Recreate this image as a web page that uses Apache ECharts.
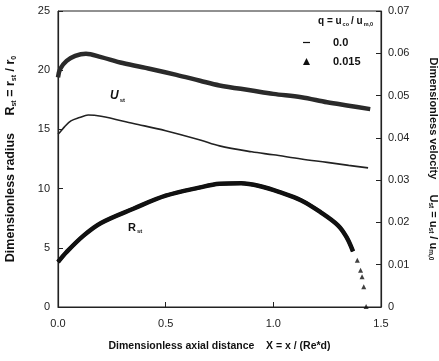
<!DOCTYPE html>
<html>
<head>
<meta charset="utf-8">
<script src="https://cdn.jsdelivr.net/npm/echarts@6/dist/echarts.min.js"></script>
<style>
  html, body { margin: 0; padding: 0; background: #fff; }
  #chart { width: 439px; height: 361px; }
</style>
</head>
<body>
<div id="chart"></div>
<script>
var FONT = '"Liberation Sans", Arial, sans-serif';

// velocity U_st (right axis), q = 0.015 : upper curve
var xVelHigh = [0, 0.01, 0.04, 0.08, 0.13, 0.2, 0.3, 0.43, 0.55, 0.66, 0.75, 0.9, 1.0, 1.13, 1.25, 1.35, 1.45];
var velHigh  = [0.0543, 0.0563, 0.0582, 0.0594, 0.0599, 0.0591, 0.0577, 0.0563, 0.0549, 0.0535, 0.0524, 0.0512, 0.0504, 0.0496, 0.0484, 0.0476, 0.0468];

// velocity U_st (right axis), q = 0.0 : lower curve
var xVelLow = [0, 0.01, 0.03, 0.06, 0.1, 0.14, 0.2, 0.35, 0.5, 0.66, 0.75, 0.9, 1.0, 1.13, 1.25, 1.35, 1.44];
var velLow  = [0.0409, 0.0414, 0.0426, 0.044, 0.0448, 0.0454, 0.0451, 0.0434, 0.0417, 0.0395, 0.0381, 0.0367, 0.036, 0.035, 0.0342, 0.0335, 0.0329];

// radius R_st (left axis)
var xRad = [0, 0.04, 0.12, 0.2, 0.35, 0.5, 0.66, 0.75, 0.85, 0.94, 1.03, 1.13, 1.22, 1.3, 1.34, 1.37];
var rad  = [3.8, 4.65, 6.05, 7.1, 8.3, 9.4, 10.1, 10.4, 10.45, 10.2, 9.7, 9.0, 8.0, 6.9, 5.9, 4.7];
// q = 0.015 radius tail (separate triangles)
var xRadTail = [1.39, 1.405, 1.412, 1.42, 1.431];
var radTail  = [3.95, 3.1, 2.55, 1.7, 0.05];

function pairs(xs, ys) {
  var out = [];
  for (var i = 0; i < xs.length; i++) out.push([xs[i], ys[i]]);
  return out;
}

var dashIcon = 'path://M0,0M8,8M0,3.3L8,3.3L8,4.7L0,4.7Z';

var chart = echarts.init(document.getElementById('chart'));
chart.setOption({
  animation: false,
  textStyle: { fontFamily: FONT },
  grid: {
    left: 58, right: 58, top: 11, bottom: 54,
    outerBoundsMode: 'none', containLabel: false,
    show: true, borderColor: '#222', borderWidth: 1
  },
  legend: {
    orient: 'vertical',
    left: 298, top: 32,
    itemWidth: 7, itemHeight: 7, itemGap: 8,
    textStyle: { fontFamily: FONT, fontSize: 11, fontWeight: 'bold', color: '#111', padding: [0, 0, 0, 18] },
    data: [
      { name: '0.0', icon: dashIcon },
      { name: '0.015', icon: 'triangle' }
    ]
  },
  xAxis: {
    type: 'value', min: 0, max: 1.5, interval: 0.5,
    name: 'Dimensionless axial distance    X = x / (Re*d)',
    nameLocation: 'middle', nameGap: 34,
    nameTextStyle: { fontFamily: FONT, fontSize: 10.5, fontWeight: 'bold', color: '#111' },
    axisLine: { lineStyle: { color: '#222', width: 1.2 } },
    axisTick: { inside: true, length: 5, lineStyle: { color: '#222' } },
    axisLabel: { color: '#222', fontSize: 11, margin: 11, formatter: function (v) { return v.toFixed(1); } },
    splitLine: { show: false }
  },
  yAxis: [
    {
      type: 'value', min: 0, max: 25, interval: 5, position: 'left',
      name: '{t|Dimensionless radius     R}{s|st}{t| = r}{s|st}{t| / r}{s|0}',
      nameLocation: 'middle', nameGap: 40,
      nameTextStyle: {
        rich: {
          t: { fontFamily: FONT, fontSize: 12.5, fontWeight: 'bold', color: '#111' },
          s: { fontFamily: FONT, fontSize: 7, fontWeight: 'bold', color: '#111', padding: [7, 0, 0, 0] }
        }
      },
      axisLine: { show: true, lineStyle: { color: '#222', width: 1.2 } },
      axisTick: { inside: true, length: 5, lineStyle: { color: '#222' } },
      axisLabel: { color: '#222', fontSize: 11, margin: 8 },
      splitLine: { show: false }
    },
    {
      type: 'value', min: 0, max: 0.07, interval: 0.01, position: 'right',
      name: '{t|Dimensionless velocity     U}{s|st}{t| = u}{s|st}{t| / u}{s|m,0}',
      nameLocation: 'middle', nameGap: 46, nameRotate: -90,
      nameTextStyle: {
        rich: {
          t: { fontFamily: FONT, fontSize: 11, fontWeight: 'bold', color: '#111' },
          s: { fontFamily: FONT, fontSize: 6.5, fontWeight: 'bold', color: '#111', padding: [6, 0, 0, 0] }
        }
      },
      axisLine: { show: true, lineStyle: { color: '#222', width: 1.2 } },
      axisTick: { inside: true, length: 5, lineStyle: { color: '#222' } },
      axisLabel: {
        color: '#222', fontSize: 11, margin: 7,
        formatter: function (v) { return v === 0 ? '0' : v.toFixed(2); }
      },
      splitLine: { show: false }
    }
  ],
  graphic: [
    {
      type: 'text', left: 318, top: 16,
      style: {
        text: '{t|q = u}{s|co}{t|/ u}{s|m,0}',
        rich: {
          t: { fontFamily: FONT, fontSize: 10, fontWeight: 'bold', fill: '#111' },
          s: { fontFamily: FONT, fontSize: 5.5, fontWeight: 'bold', fill: '#111', padding: [7, 2, 0, 1] }
        }
      }
    },
    {
      type: 'text', left: 110, top: 90,
      style: {
        text: '{t|U}{s|st}',
        rich: {
          t: { fontFamily: FONT, fontSize: 12, fontWeight: 'bold', fontStyle: 'italic', fill: '#111' },
          s: { fontFamily: FONT, fontSize: 6, fontWeight: 'bold', fill: '#111', padding: [8, 0, 0, 1] }
        }
      }
    },
    {
      type: 'text', left: 128, top: 222,
      style: {
        text: '{t|R}{s|st}',
        rich: {
          t: { fontFamily: FONT, fontSize: 11, fontWeight: 'bold', fill: '#111' },
          s: { fontFamily: FONT, fontSize: 6, fontWeight: 'bold', fill: '#111', padding: [7, 0, 0, 1] }
        }
      }
    }
  ],
  series: [
    {
      name: '0.015', type: 'line', yAxisIndex: 1, smooth: 0.35,
      data: pairs(xVelHigh, velHigh),
      symbol: 'triangle', symbolSize: 3, showSymbol: false,
      lineStyle: { color: '#2a2a2a', width: 4.5 },
      itemStyle: { color: '#111' }
    },
    {
      name: '0.0', type: 'line', yAxisIndex: 1, smooth: 0.35,
      data: pairs(xVelLow, velLow),
      symbol: 'rect', symbolSize: [4, 1.5], showSymbol: false,
      lineStyle: { color: '#222', width: 1.6 },
      itemStyle: { color: '#111' }
    },
    {
      name: '0.0', type: 'line', yAxisIndex: 0, smooth: 0.35,
      data: pairs(xRad, rad),
      symbol: 'rect', symbolSize: [4, 1.5], showSymbol: false,
      lineStyle: { color: '#111', width: 4.5 },
      itemStyle: { color: '#111' }
    },
    {
      name: '0.015', type: 'line', yAxisIndex: 0, smooth: 0.35,
      data: pairs(xRad, rad),
      symbol: 'triangle', symbolSize: 4, showSymbol: false,
      lineStyle: { color: '#111', width: 3.5 },
      itemStyle: { color: '#111' }
    },
    {
      name: '0.015', type: 'scatter', yAxisIndex: 0,
      data: pairs(xRadTail, radTail),
      symbol: 'triangle', symbolSize: 5,
      itemStyle: { color: '#111' }
    }
  ]
});
</script>
</body>
</html>
